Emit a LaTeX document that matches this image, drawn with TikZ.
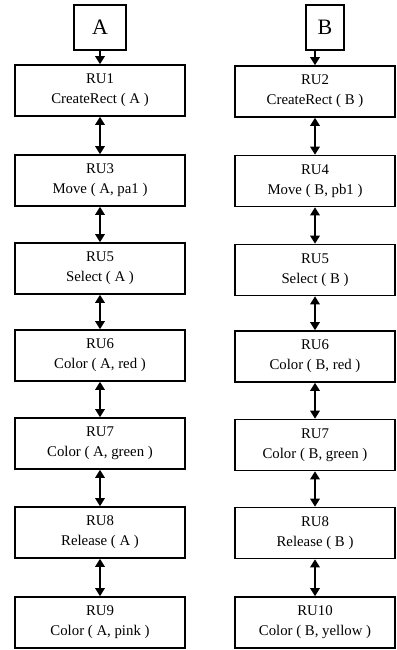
\documentclass[tikz,border=0pt]{standalone}
\usepackage{fontspec}
\setmainfont{Liberation Serif}
\usetikzlibrary{arrows.meta}

\begin{document}
\begin{tikzpicture}[x=1pt,y=-1pt,
    ru/.style={draw,line width=1.6pt,inner sep=0pt,minimum height=51pt,
      align=center,font=\fontsize{14.8}{20}\selectfont},
    obj/.style={draw,line width=1.8pt,inner sep=0pt,minimum height=45pt,
      font=\fontsize{22}{22}\selectfont},
    link/.style={line width=1.5pt,
      {Triangle[length=8pt,width=9.5pt]}-{Triangle[length=8pt,width=9.5pt]}},
    feed/.style={line width=1.5pt,-{Triangle[length=8pt,width=9.5pt]}}]
  \useasboundingbox (0,0) rectangle (396,650);
  % object boxes
  \node[obj,minimum width=52pt] (objA) at (100,27.5) {A};
  \node[obj,minimum width=38pt] (objB) at (325,27.5) {B};
  % left column
  \foreach \k/\y/\lbl/\op in {1/90.5/RU1/{CreateRect ( A )},
      2/180.5/RU3/{Move ( A, pa1 )}, 3/268.5/RU5/{Select ( A )},
      4/355.5/RU6/{Color ( A, red )}, 5/443.5/RU7/{Color ( A, green )},
      6/532.5/RU8/{Release ( A )}, 7/622.5/RU9/{Color ( A, pink )}}
    \node[ru,minimum width=170pt] (ruA\k) at (100,\y) {\lbl\\\op};
  % right column
  \foreach \k/\y/\lbl/\op in {1/91.5/RU2/{CreateRect ( B )},
      2/181/RU4/{Move ( B, pb1 )}, 3/270/RU5/{Select ( B )},
      4/356.5/RU6/{Color ( B, red )}, 5/445/RU7/{Color ( B, green )},
      6/533/RU8/{Release ( B )}, 7/622.5/RU10/{Color ( B, yellow )}}
    \node[ru,minimum width=160pt] (ruB\k) at (315,\y) {\lbl\\\op};
  % connectors
  \draw[feed] (objA) -- (ruA1);
  \draw[feed] (ruB1.north |- objB.south) -- (ruB1.north);
  \foreach \r [count=\s from 2] in {1,...,6}{
    \draw[link] (ruA\r) -- (ruA\s);
    \draw[link] (ruB\r) -- (ruB\s);
  }
\end{tikzpicture}
\end{document}
